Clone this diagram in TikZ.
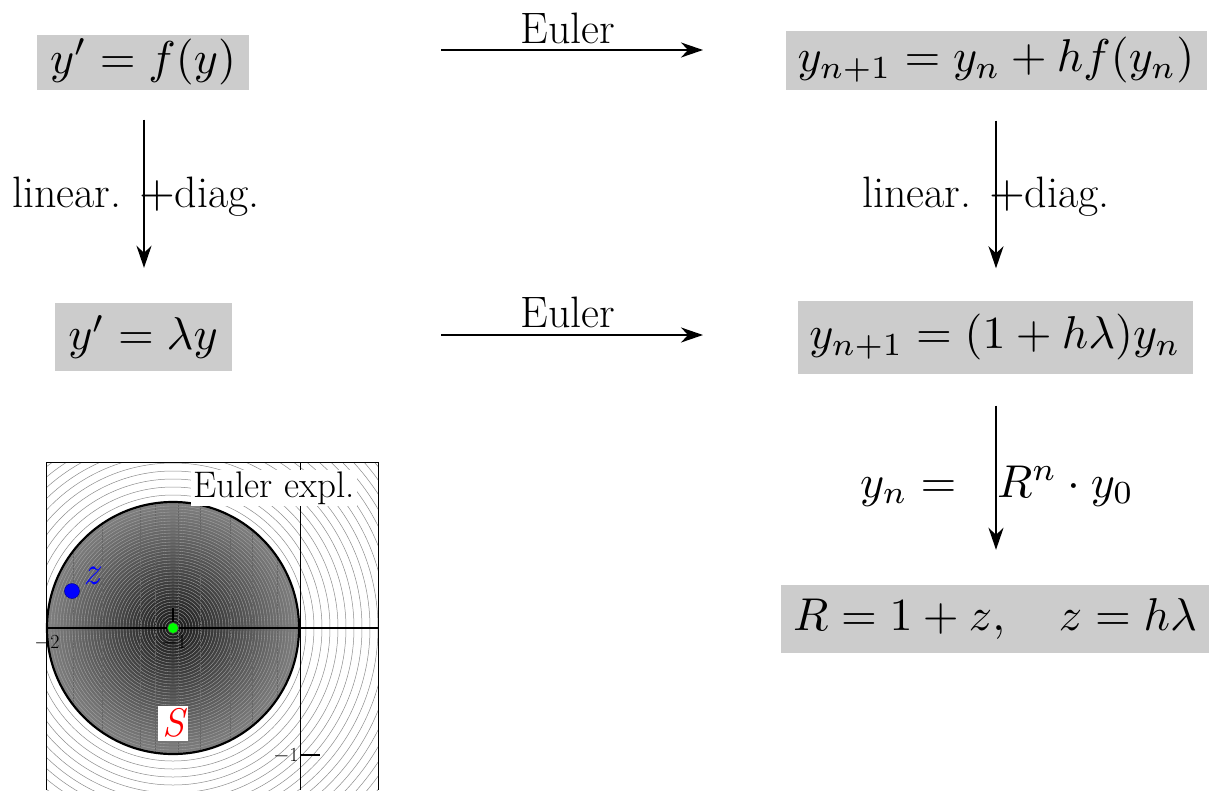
\documentclass[tikz,border=0pt]{standalone}
\usepackage[no-math]{fontspec}
\usepackage{graphicx}
\usetikzlibrary{arrows.meta}
\definecolor{boxgray}{gray}{0.8}
\newcommand{\hugemath}[1]{\scalebox{4.6}{$#1$}}
\newcommand{\bigplus}{\scalebox{4.6}{\fontsize{10}{12}\selectfont$+$}}
\begin{document}
\begin{tikzpicture}[x=1pt,y=-1pt,
  box/.style={fill=boxgray, inner sep=0pt},
  lbl/.style={inner sep=0pt, font=\fontsize{44}{50}\selectfont},
  mlbl/.style={inner sep=0pt},
  conn/.style={line width=2pt, -{Stealth[length=22pt,width=15pt,inset=7pt]}},
  tick/.style={inner sep=0pt, font=\fontsize{20}{22}\selectfont}]
\useasboundingbox (0,0) rectangle (1209,790);

% boxes
\node[box, minimum width=212pt, minimum height=55pt] (b1) at (143,62) {\hugemath{y' = f(y)}};
\node[box, minimum width=421pt, minimum height=59pt] (b2) at (996,60) {\hugemath{y_{n+1} = y_n + hf(y_n)}};
\node[box, minimum width=177pt, minimum height=68pt] (b3) at (143,337) {\hugemath{y' = \lambda y}};
\node[box, minimum width=395pt, minimum height=73pt] (b4) at (995,337) {\hugemath{y_{n+1} = (1+h\lambda)y_n}};
\node[box, minimum width=429pt, minimum height=68pt] (b5) at (995,619) {\hugemath{R = 1 + z,\quad z = h\lambda}};

% horizontal arrows
\coordinate (h1s) at (441,50);
\coordinate (h1e) at (703,50);
\coordinate (h2s) at (441,335);
\coordinate (h2e) at (703,335);
\draw[conn] (h1s) -- (h1e);
\draw[conn] (h2s) -- (h2e);
\node[lbl, anchor=base] (e1) at (568,43) {Euler};
\node[lbl, anchor=base] (e2) at (568,327) {Euler};

% vertical arrows
\draw[conn, shorten <=30pt, shorten >=35pt] ([xshift=1pt]b1.south) -- ([xshift=1pt]b3.north);
\draw[conn, shorten <=31pt, shorten >=32pt] (b2.south) -- (b2.south |- b4.north);
\draw[conn, shorten <=32pt, shorten >=35pt] ([xshift=1pt]b4.south) -- ([xshift=1pt]b4.south |- b5.north);

\node[lbl, anchor=base west] (l1) at (12,207) {linear. \bigplus diag.};
\node[lbl, anchor=base west] (l2) at (862,207) {linear. \bigplus diag.};
\node[mlbl, anchor=base west] (yn) at (860,497) {\hugemath{y_n =}};
\node[mlbl, anchor=base west] (rn) at (997,497) {\hugemath{R^n\cdot y_0}};

% stability plot
\begin{scope}
  \clip (46,462) rectangle (378,790);
  \fill[white] (46,462) rectangle (378,790);
  \foreach \r in {5,13,...,470} \draw[black!45, line width=0.5pt] (173,628) circle (\r);
  \shade[inner color=black!90, outer color=black!50] (173,628) circle (126);
  \begin{scope}
    \clip (173,628) circle (126);
    \foreach \r in {2,5,...,126} \draw[black!35, line width=0.35pt] (173,628) circle (\r);
    \foreach \xx in {73,102,140,155,178,200,230,252,277} \draw[black!60, line width=0.4pt, dash pattern=on 2pt off 1pt] (\xx,490) -- (\xx,770);
  \end{scope}
\end{scope}
\draw[line width=0.8pt] (46,790) -- (46,462) -- (378,462) -- (378,790);
\draw[line width=1.2pt] (46,628) -- (378,628);
\draw[line width=0.8pt] (300,462) -- (300,790);
\draw[line width=2.2pt] (173,628) circle (126);
\draw[line width=1.5pt] (173,628) -- (173,608);
\draw[line width=1.5pt] (47,628) -- (47,610);
\draw[line width=1.2pt] (300,755) -- (320,755);
\node[tick] (t2) at (47,643) {$-$2};
\node[tick] (t1) at (174,643) {$-$1};
\node[tick] (t3) at (286,756) {$-$1};
\node[fill=white, inner sep=2pt, font=\fontsize{37}{40}\selectfont] (lab) at (274,488) {Euler expl.};
\node[fill=white, inner xsep=4pt, inner ysep=3pt, text=red, font=\fontsize{40}{42}\selectfont\itshape] (S) at (173,723) {S};
\node[circle, fill=blue, draw=blue!60!black, line width=0.5pt, minimum size=15pt, inner sep=0pt] (zd) at (72,591) {};
\node[text=blue, inner sep=0pt, font=\fontsize{40}{44}\selectfont\itshape] (zl) at (91,576) {z};
\node[circle, fill=green, draw=black!70, line width=0.6pt, minimum size=11pt, inner sep=0pt] (g) at (173,628) {};
\end{tikzpicture}
\end{document}
